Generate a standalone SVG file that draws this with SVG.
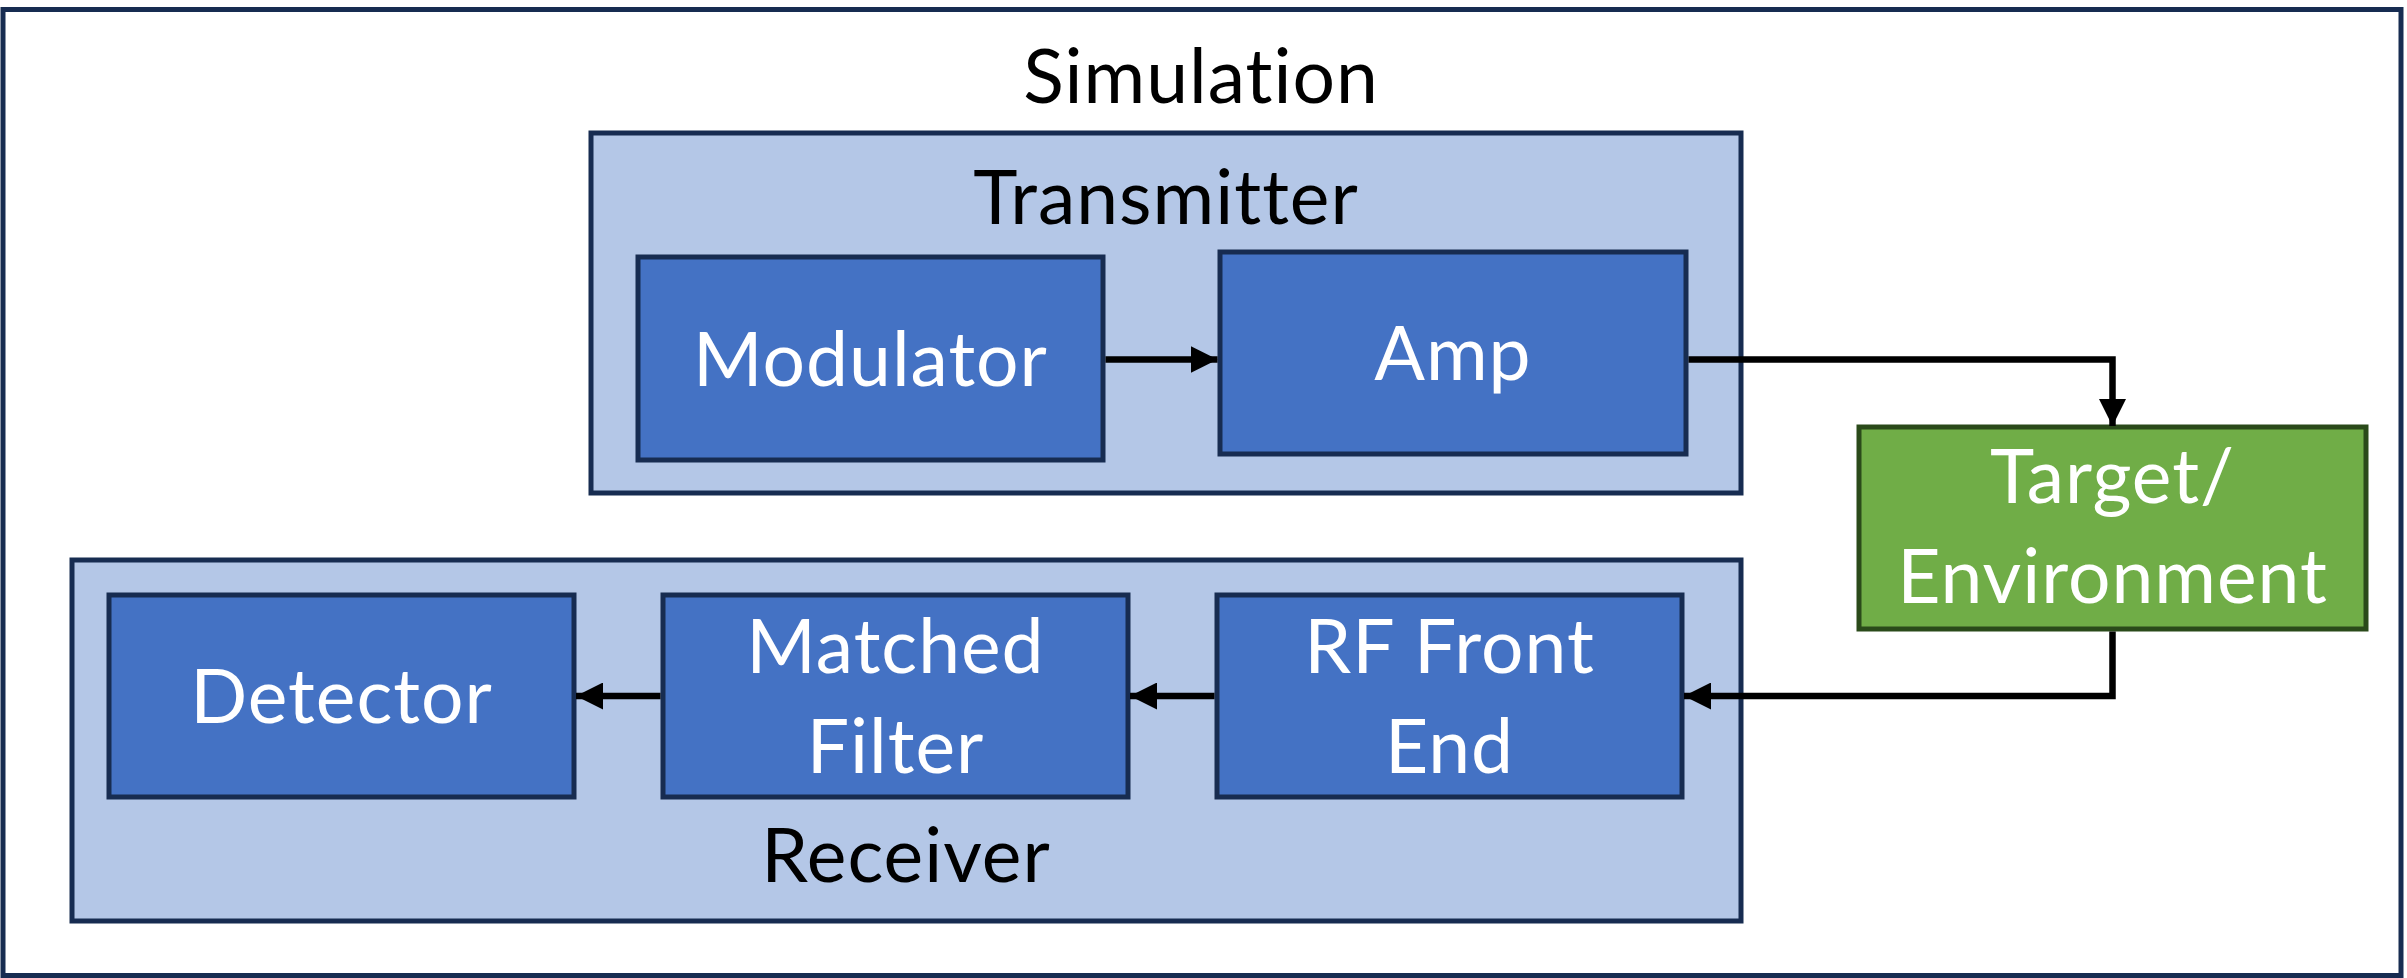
<svg xmlns="http://www.w3.org/2000/svg" width="2407" height="978" viewBox="0 0 2407 978">
  <style>
    .frame { fill: #FFFFFF; stroke: #172C51; stroke-width: 5; }
    .group { fill: #B4C7E7; stroke: #172C51; stroke-width: 5; }
    .block { fill: #4472C4; stroke: #172C51; stroke-width: 5; }
    .env { fill: #70AD47; stroke: #2A4A1A; stroke-width: 5; }
    text { font-family: Lato, "Liberation Sans", sans-serif; font-size: 75px; letter-spacing: 1px; text-anchor: middle; font-variant-ligatures: none; font-feature-settings: "liga" 0, "clig" 0; }
    .dark { fill: #000000; }
    .light { fill: #FFFFFF; }
    .wire { fill: none; stroke: #000000; stroke-width: 6.5; }
  </style>
  <defs>
    <marker id="arrow" markerUnits="userSpaceOnUse" markerWidth="27" markerHeight="27" refX="27" refY="13.5" orient="auto">
      <path d="M0,0 L27,13.5 L0,27 Z" fill="#000000"/>
    </marker>
  </defs>

  <g id="simulation">
    <rect class="frame" x="3" y="9.5" width="2398" height="966"/>
    <text class="dark" x="1201" y="103">Simulation</text>
  </g>

  <g id="transmitter">
    <rect class="group" x="591" y="133" width="1150" height="360"/>
    <text class="dark" x="1166" y="224">Transmitter</text>
  </g>

  <g id="receiver">
    <rect class="group" x="72" y="560" width="1669" height="361"/>
    <text class="dark" x="906" y="882">Receiver</text>
  </g>

  <g id="modulator">
    <rect class="block" x="638" y="257" width="465" height="203"/>
    <text class="light" x="870.5" y="386">Modulator</text>
  </g>

  <g id="amp">
    <rect class="block" x="1220" y="252" width="466" height="202"/>
    <text class="light" x="1453" y="380">Amp</text>
  </g>

  <g id="target">
    <rect class="env" x="1859" y="427" width="507" height="202"/>
    <text class="light" x="2112.5" y="503">Target/</text>
    <text class="light" x="2112.5" y="603">Environment</text>
  </g>

  <g id="rf-front-end">
    <rect class="block" x="1217" y="595" width="465" height="202"/>
    <text class="light" x="1449.5" y="673">RF Front</text>
    <text class="light" x="1449.5" y="773">End</text>
  </g>

  <g id="matched-filter">
    <rect class="block" x="663" y="595" width="465" height="202"/>
    <text class="light" x="895.5" y="673">Matched</text>
    <text class="light" x="895.5" y="773">Filter</text>
  </g>

  <g id="detector">
    <rect class="block" x="109" y="595" width="465" height="202"/>
    <text class="light" x="341.5" y="723">Detector</text>
  </g>

  <g id="connectors">
    <path class="wire" d="M1105.5,359.5 L1217.5,359.5" marker-end="url(#arrow)"/>
    <path class="wire" d="M1688.5,359.5 L2112.5,359.5 L2112.5,426" marker-end="url(#arrow)"/>
    <path class="wire" d="M2112.5,631.5 L2112.5,696 L1684,696" marker-end="url(#arrow)"/>
    <path class="wire" d="M1214.5,696 L1130,696" marker-end="url(#arrow)"/>
    <path class="wire" d="M660.5,696 L576,696" marker-end="url(#arrow)"/>
  </g>
</svg>
